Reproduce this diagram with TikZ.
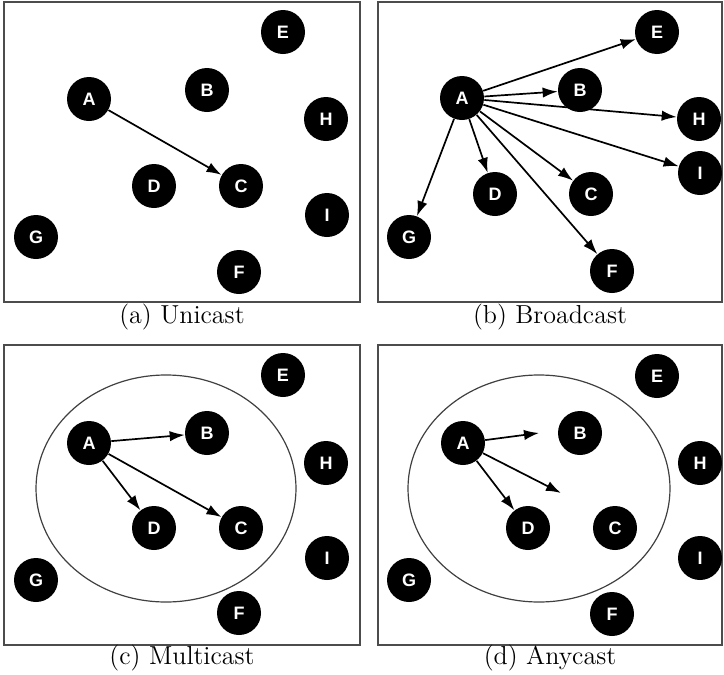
\documentclass[tikz,border=0pt]{standalone}
\usepackage{fontspec}
\newfontfamily\nodefont{Liberation Sans}
\usetikzlibrary{arrows.meta}
\begin{document}
\begin{tikzpicture}[x=0.5pt,y=-0.5pt,
  host/.style={circle,fill=black,minimum size=22pt,inner sep=0pt,text=white,font=\nodefont\bfseries\fontsize{9}{10}\selectfont},
  link/.style={line width=0.85pt,-{Latex[length=7.5pt,width=5.2pt]}},
  frame/.style={draw=black!70,line width=0.6pt},
  group/.style={draw=black!75,line width=0.6pt},
  caption/.style={font=\fontsize{13}{15}\selectfont,inner sep=0pt}]
\useasboundingbox (0,0) rectangle (724,675);
% frames
\draw[frame] (4,2) rectangle (360,302);
\draw[frame] (378,2) rectangle (722,302);
\draw[frame] (4,345) rectangle (360,645);
\draw[frame] (378,345) rectangle (722,645);
% captions
\node[caption] (capa) at (182,317) {(a) Unicast};
\node[caption] (capb) at (550,317) {(b) Broadcast};
\node[caption] (capc) at (182,658) {(c) Multicast};
\node[caption] (capd) at (550,658) {(d) Anycast};
% ellipses
\draw[group] (166,488.5) ellipse [x radius=65pt, y radius=56.75pt];
\draw[group] (539,488.5) ellipse [x radius=65.5pt, y radius=56.75pt];
% (a) Unicast
\node[host] (aE) at (283,32) {E};
\node[host] (aB) at (207,90) {B};
\node[host] (aA) at (89,99) {A};
\node[host] (aH) at (326,119) {H};
\node[host] (aD) at (154,186) {D};
\node[host] (aC) at (241,186) {C};
\node[host] (aI) at (327,215) {I};
\node[host] (aG) at (36,237) {G};
\node[host] (aF) at (239,272) {F};
\draw[link] (aA) -- (aC);
% (b) Broadcast
\node[host] (bE) at (657,32) {E};
\node[host] (bB) at (580,90) {B};
\node[host] (bA) at (462,98) {A};
\node[host] (bH) at (699,119) {H};
\node[host] (bI) at (700,173) {I};
\node[host] (bD) at (495,194) {D};
\node[host] (bC) at (591,194) {C};
\node[host] (bG) at (409,237) {G};
\node[host] (bF) at (612,271) {F};
\foreach \t in {E,B,H,I,C,F,D,G} \draw[link] (bA) -- (b\t);
% (c) Multicast
\node[host] (cE) at (283,375) {E};
\node[host] (cB) at (207,433) {B};
\node[host] (cA) at (89,443) {A};
\node[host] (cH) at (326,463) {H};
\node[host] (cD) at (154,528) {D};
\node[host] (cC) at (241,528) {C};
\node[host] (cI) at (327,558) {I};
\node[host] (cG) at (36,580) {G};
\node[host] (cF) at (239,613) {F};
\draw[link] (cA) -- (cB);
\draw[link] (cA) -- (cD);
\draw[link] (cA) -- (cC);
% (d) Anycast
\node[host] (dE) at (657,376) {E};
\node[host] (dB) at (580,433) {B};
\node[host] (dA) at (463,443) {A};
\node[host] (dH) at (700,463) {H};
\node[host] (dD) at (528,528) {D};
\node[host] (dC) at (615,528) {C};
\node[host] (dI) at (700,558) {I};
\node[host] (dG) at (409,580) {G};
\node[host] (dF) at (612,614) {F};
\coordinate (d1) at (539,433);
\coordinate (d2) at (561,493);
\draw[link] (dA) -- (d1);
\draw[link] (dA) -- (d2);
\draw[link] (dA) -- (dD);
\end{tikzpicture}
\end{document}
